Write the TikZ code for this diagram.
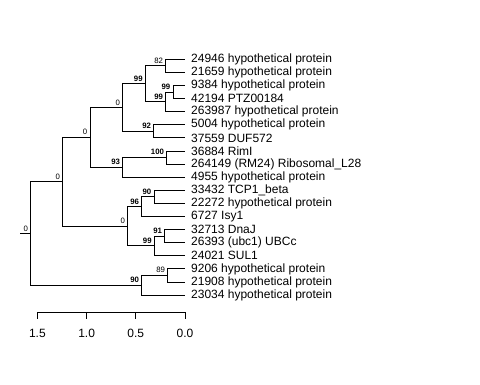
\documentclass[tikz,border=0pt]{standalone}
\usepackage{fontspec}
\setmainfont{Liberation Sans}
\usetikzlibrary{calc}
\begin{document}
\begin{tikzpicture}[x=1pt,y=-1pt,
  br/.style={line width=1pt,black},
  leaflab/.style={anchor=west,inner sep=0pt,font=\fontsize{12}{14}\selectfont},
  bs/.style={anchor=south east,inner sep=0pt,font=\fontsize{7.8}{9}\selectfont\bfseries},
  ns/.style={anchor=south east,inner sep=0pt,font=\fontsize{7.8}{9}\selectfont},
  axlab/.style={anchor=center,inner sep=0pt,font=\fontsize{12}{14}\selectfont}]
\useasboundingbox (0,0) rectangle (480,384);
% leaves
\foreach \i/\t in {1/24946 hypothetical protein,2/21659 hypothetical protein,3/9384 hypothetical protein,4/42194 PTZ00184,5/263987 hypothetical protein,6/5004 hypothetical protein,7/37559 DUF572,8/36884 RimI,9/264149 (RM24) Ribosomal\_L28,10/4955 hypothetical protein,11/33432 TCP1\_beta,12/22272 hypothetical protein,13/6727 Isy1,14/32713 DnaJ,15/26393 (ubc1) UBCc,16/24021 SUL1,17/9206 hypothetical protein,18/21908 hypothetical protein,19/23034 hypothetical protein}{
  \coordinate (L\i) at (185,{59.3+13.1*(\i-1)});
  \node[leaflab] (T\i) at (191,{59.3+13.1*(\i-1)}) {\t};
}
% internal nodes
\path let \p1=(L1),\p2=(L2) in coordinate (n82) at (165.7pt,{(\y1+\y2)/2});
\path let \p1=(L3),\p2=(L4) in coordinate (n99a) at (173pt,{(\y1+\y2)/2});
\path let \p1=(n99a),\p2=(L5) in coordinate (n99b) at (165.7pt,{(\y1+\y2)/2});
\path let \p1=(n82),\p2=(n99b) in coordinate (n99c) at (145.3pt,{(\y1+\y2)/2});
\path let \p1=(L6),\p2=(L7) in coordinate (n92) at (153.7pt,{(\y1+\y2)/2});
\path let \p1=(n99c),\p2=(n92) in coordinate (n0a) at (122.7pt,{(\y1+\y2)/2});
\path let \p1=(L8),\p2=(L9) in coordinate (n100) at (166.7pt,{(\y1+\y2)/2});
\path let \p1=(n100),\p2=(L10) in coordinate (n93) at (122.7pt,{(\y1+\y2)/2});
\path let \p1=(n0a),\p2=(n93) in coordinate (n0b) at (90pt,{(\y1+\y2)/2});
\path let \p1=(L11),\p2=(L12) in coordinate (n90a) at (154pt,{(\y1+\y2)/2});
\path let \p1=(n90a),\p2=(L13) in coordinate (n96) at (141.7pt,{(\y1+\y2)/2});
\path let \p1=(L14),\p2=(L15) in coordinate (n91) at (164.7pt,{(\y1+\y2)/2});
\path let \p1=(n91),\p2=(L16) in coordinate (n99d) at (154.3pt,{(\y1+\y2)/2});
\path let \p1=(n96),\p2=(n99d) in coordinate (n0c) at (127.7pt,{(\y1+\y2)/2});
\path let \p1=(n0b),\p2=(n0c) in coordinate (n0d) at (62.7pt,{(\y1+\y2)/2});
\path let \p1=(L17),\p2=(L18) in coordinate (n89) at (167.7pt,{(\y1+\y2)/2});
\path let \p1=(n89),\p2=(L19) in coordinate (n90b) at (141.7pt,{(\y1+\y2)/2});
\path let \p1=(n0d),\p2=(n90b) in coordinate (root) at (30.7pt,{(\y1+\y2)/2});
\path let \p1=(root) in coordinate (stub) at (20pt,\y1);
% edges
\foreach \p/\a/\b in {n82/L1/L2,n99a/L3/L4,n99b/n99a/L5,n99c/n82/n99b,n92/L6/L7,n0a/n99c/n92,n100/L8/L9,n93/n100/L10,n0b/n0a/n93,n90a/L11/L12,n96/n90a/L13,n91/L14/L15,n99d/n91/L16,n0c/n96/n99d,n0d/n0b/n0c,n89/L17/L18,n90b/n89/L19,root/n0d/n90b}{
  \draw[br] (\p) |- (\a);
  \draw[br] (\p) |- (\b);
}
\draw[br] (stub) -- (root);
% node labels
\foreach \p/\t/\s in {n82/82/ns,n99a/99/bs,n99b/99/bs,n99c/99/bs,n92/92/bs,n0a/0/ns,n100/100/bs,n93/93/bs,n0b/0/ns,n90a/90/bs,n96/96/bs,n91/91/bs,n99d/99/bs,n0c/0/ns,n0d/0/ns,n89/89/ns,n90b/90/bs,root/0/ns}{
  \node[\s] (lab-\p) at ([xshift=-2.5pt,yshift=2.3pt]\p) {\t};
}
% axis
\coordinate (a15) at (37.4,312.3);
\coordinate (a10) at (86.6,312.3);
\coordinate (a05) at (135.8,312.3);
\coordinate (a00) at (185,312.3);
\draw[br] (a15) -- (a00);
\foreach \c/\t in {a15/1.5,a10/1.0,a05/0.5,a00/0.0}{
  \draw[br] (\c) -- ++(0,6.7);
  \node[axlab] (t\c) at ([yshift=-20.7pt]\c) {\t};
}
\end{tikzpicture}
\end{document}
